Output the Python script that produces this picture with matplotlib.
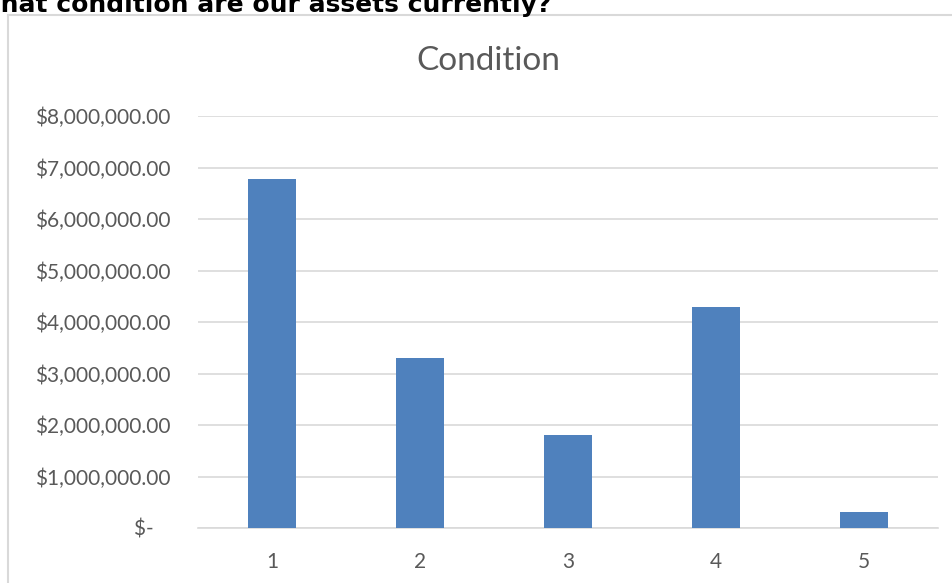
import matplotlib.pyplot as plt
from matplotlib.lines import Line2D
from matplotlib.ticker import FuncFormatter

# asset value by condition rating
conditions = [1, 2, 3, 4, 5]
values = [6780000, 3300000, 1810000, 4300000, 310000]
yticks = [0, 1000000, 2000000, 3000000, 4000000, 5000000, 6000000, 7000000, 8000000]

bar_color = '#4f81bd'
text_color = '#595959'
grid_color = '#d9d9d9'

plt.rcParams['font.family'] = ['Lato', 'DejaVu Sans']

W, H = 953, 583
fig = plt.figure(figsize=(W / 100, H / 100), dpi=100)

# chart frame (only top and left edges fall inside the image)
fig.add_artist(Line2D([8 / W, 8 / W], [0, 1 - 15 / H], color=grid_color, lw=1.5))
fig.add_artist(Line2D([8 / W, 1], [1 - 15 / H, 1 - 15 / H], color=grid_color, lw=1.5))

# heading of the page, cut off by the top edge
fig.text(-27 / W, 1 - 12 / H, 'What condition are our assets currently?',
         fontsize=18, fontweight='bold', color='black', ha='left', va='baseline',
         family=['DejaVu Sans'])

ax = fig.add_axes([198 / W, 1 - 528 / H, 740 / W, 412 / H])
ax.bar(conditions, values, width=0.32, color=bar_color, zorder=3)

ax.set_xlim(0.5, 5.5)
ax.set_ylim(0, 8000000)
ax.set_yticks(yticks)
ax.set_xticks(conditions)
ax.set_xticklabels([str(c) for c in conditions])


def money(v, pos):
    if v == 0:
        return '$-   '
    return '${:,.2f}'.format(v)


ax.yaxis.set_major_formatter(FuncFormatter(money))
ax.grid(axis='y', color=grid_color, lw=1.2, zorder=0)
for s in ax.spines.values():
    s.set_visible(False)
ax.spines['bottom'].set_visible(True)
ax.spines['bottom'].set_color(grid_color)
ax.spines['bottom'].set_linewidth(1.2)

ax.tick_params(axis='both', length=0, labelsize=15, labelcolor=text_color)
ax.tick_params(axis='y', pad=20)
ax.tick_params(axis='x', pad=17)

fig.text(488 / W, 1 - 61 / H, 'Condition', fontsize=24, color=text_color,
         ha='center', va='center')

fig.savefig('out.png', dpi=100)
